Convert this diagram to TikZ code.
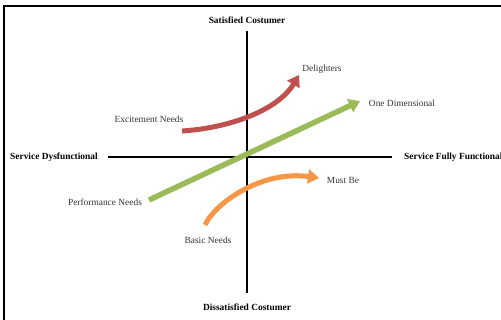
\documentclass[tikz,border=0pt]{standalone}
\usepackage{fontspec}
\setmainfont{Liberation Serif}
\usetikzlibrary{arrows.meta}
\definecolor{kred}{HTML}{C0504D}
\definecolor{kgreen}{HTML}{9BBB59}
\definecolor{korange}{HTML}{F79646}
\begin{document}
\begin{tikzpicture}[x=1pt,y=-1pt,
  axislab/.style={font=\fontsize{9.4}{11}\selectfont\bfseries, inner sep=0pt},
  lab/.style={font=\fontsize{9.4}{11}\selectfont, text=black!80, inner sep=0pt},
  axisline/.style={line width=2.2pt, black},
  fatarrow/.style={line width=5pt, -{Triangle[length=11pt,width=14pt]}}]
\useasboundingbox (0,0) rectangle (501,320);
% frame
\draw[line width=1.3pt] (4,320) -- (4,6) -- (501,6);
% axis labels
\node[axislab] (sat) at (247,20) {Satisfied Costumer};
\node[axislab] (dis) at (247,307) {Dissatisfied Costumer};
\node[axislab, anchor=west] (dys) at (10,157) {Service Dysfunctional};
\node[axislab, anchor=west] (ful) at (404,157) {Service Fully Functional};
% axes
\coordinate (vt) at (247,31);
\coordinate (vb) at (247,293);
\coordinate (hl) at (108,157);
\coordinate (hr) at (392,157);
\draw[axisline] (hl) -- (hr);
\draw[axisline] (vt) -- (vb);
% labels
\node[lab] (deli) at (322,69) {Delighters};
\node[lab] (oned) at (402,103) {One Dimensional};
\node[lab] (exc) at (149,119) {Excitement Needs};
\node[lab] (perf) at (105,202) {Performance Needs};
\node[lab] (must) at (343,180) {Must Be};
\node[lab] (basic) at (208,240) {Basic Needs};
% arrow end points
\coordinate (rs) at (182,131);
\coordinate (re) at (299,75);
\coordinate (gs) at (149,200);
\coordinate (ge) at (360,101);
\coordinate (os) at (205,225);
\coordinate (oe) at (319,178);
% arrows
\draw[fatarrow, kgreen, line width=5.5pt] (gs) -- (ge);
\draw[fatarrow, kred] (rs) .. controls (230,128) and (278,110) .. (re);
\draw[fatarrow, korange] (os) .. controls (215,203) and (262,170) .. (oe);
\end{tikzpicture}
\end{document}
